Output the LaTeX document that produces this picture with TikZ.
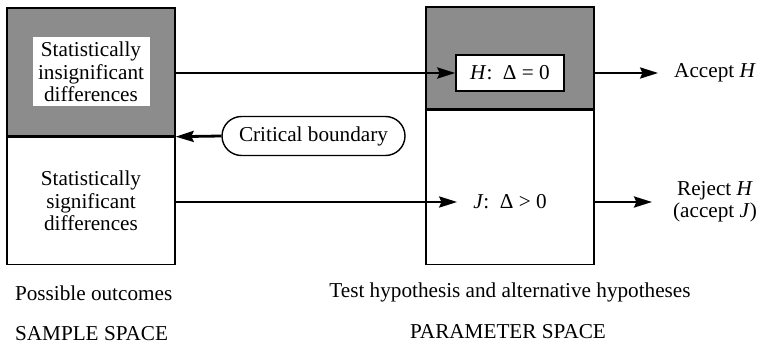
\documentclass[tikz,border=0pt]{standalone}
\usepackage{fontspec}
\setmainfont{Liberation Serif}
\usetikzlibrary{arrows.meta}
\begin{document}
\begin{tikzpicture}[-{Stealth[length=9pt,width=5.5pt,inset=1.2pt]},line width=1.4pt,
  x=0.5pt,y=-0.5pt,font=\fontsize{10.6}{11.2}\selectfont,
  space/.style={rectangle,draw,-,line width=0.7pt,minimum width=84pt,inner sep=0pt},
  shaded/.style={space,fill=black!45},
  inner box/.style={rectangle,fill=white,align=center,inner sep=0pt},
  bound node/.style={rectangle,draw,line width=0.7pt,rounded corners=9.75pt,
    minimum width=91.5pt,minimum height=19.5pt}]

  \useasboundingbox (0,0) rectangle (759,347);

  % sample space
  \node[shaded,minimum height=64pt] (samp top) at (91,72) {};
  \node[space,minimum height=63.5pt,anchor=north] (samp bot) at (samp top.south) {};
  \node[inner box,minimum width=58.5pt,minimum height=34.5pt] (insig) at (samp top)
    {Statistically\\insignificant\\differences};
  \node[align=center] (signif) at (samp bot) {Statistically\\significant\\differences};

  % parameter space
  \node[shaded,minimum height=51pt] (par top) at (510,58) {};
  \node[space,minimum height=77pt,anchor=north] (par bot) at (par top.south) {};
  \node[inner box,draw,line width=0.7pt,minimum width=54pt,minimum height=18pt] (H) at (510,73)
    {\textit{H}:\enspace Δ = 0};
  \node[] (J) at (510,202) {\textit{J}:\enspace Δ > 0};

  \node[] (acc) [right of=H, node distance=102.5pt] {Accept \textit{H}};
  \node[align=center] (rej) [right of=J, node distance=102.5pt] {Reject \textit{H}\\(accept \textit{J})};

  \node[bound node] (crit) at (313.5,136) {Critical boundary};

  \node[right] (outc) at (7,293) {Possible outcomes};
  \node[right] (samp) at (7,334) {SAMPLE SPACE};
  \node[] (hyp) at (510,292) {Test hypothesis and alternative hypotheses};
  \node[] (par) at (508,332) {PARAMETER SPACE};

  \draw (samp top.east |- H) -- (H.west);
  \draw[shorten >=4pt] (par top.east |- H) -- (acc.west);
  \draw (crit.west) -- (samp top.south east);
  \draw[shorten >=4pt] (samp bot.east |- J) -- (J.west);
  \draw[shorten >=6.5pt] (par bot.east |- J) -- (rej.west);

\end{tikzpicture}
\end{document}
